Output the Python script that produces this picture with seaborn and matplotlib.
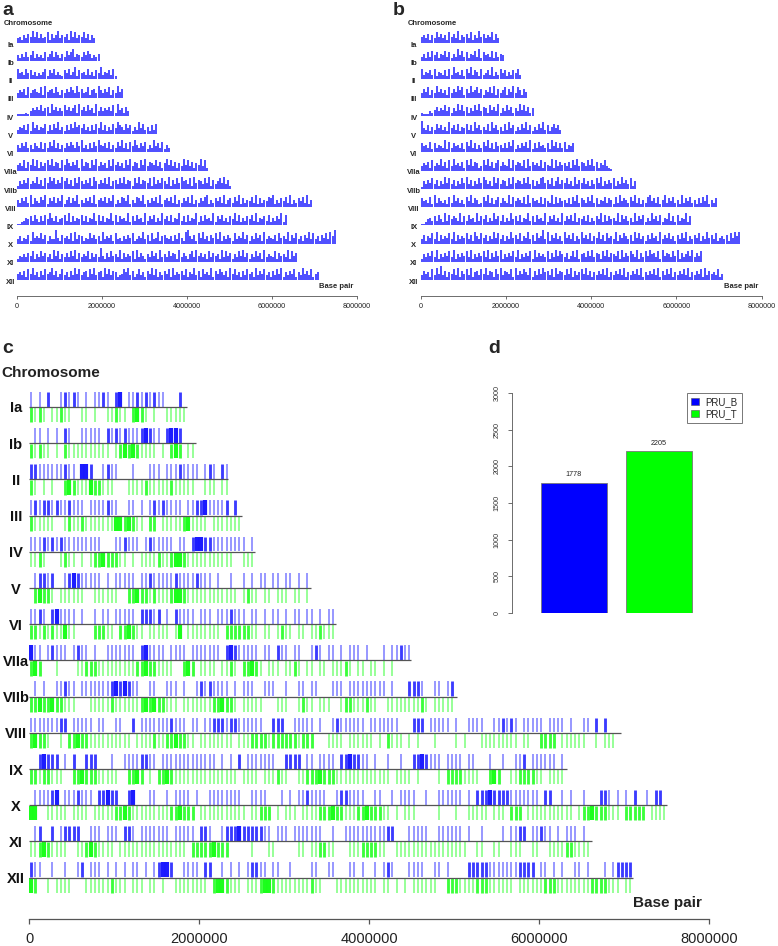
import matplotlib
matplotlib.use("Agg")
import matplotlib.pyplot as plt
from matplotlib.patches import Patch
import numpy as np
import pandas as pd
import seaborn as sns

# ---------------------------------------------------------------- data
chromosomes = ["Ia", "Ib", "II", "III", "IV", "V", "VI", "VIIa", "VIIb",
               "VIII", "IX", "X", "XI", "XII"]
chrom_len = [1860000, 1960000, 2340000, 2510000, 2660000, 3320000, 3610000,
             4500000, 5030000, 6970000, 6330000, 7500000, 6620000, 7110000]
bp_ticks = [0, 2000000, 4000000, 6000000, 8000000]
bp_tick_labels = ["0", "2000000", "4000000", "6000000", "8000000"]

# a / b : SNP density, one digit per 50 kb window
DENS_BIN = 50000
dens_a = [
    "3425364847 3634726358 3546284735 47362532",
    "4253634725 3426357364 2537468354 3647524353",
    "7453746352 4357264735 3264735826 4537352648 3546372",
    "3546273564 3728456374 2536475384 6347256385 3647253846 3",
    "1111213546 4735628463 5374635728 4637452836 3546372845 2635",
    "3546372846 3547263748 3526374856 4735263748 3625374865 3746253847 3526374",
    "5364735264 3726374836 2536475374 8352637485 4637253748 3627485364 7253846372 536",
    "4537264837 2635748365 2748536472 8365274836 4527384635 2748365274 8365473625 8473625384 7362548372",
    "2536473548 3627485736 4857362748 5364728536 4738256374 8365274836 5472836475 3826374856 3728465374 8263574836 2",
    "5364738264 3758264736 4825736482 5364738256 4736482537 6482537648 2536473825 6473825364 7382536478 2536473825 6374826354 7382635476 8253647382 5364738253",
    "1123546374 2637485362 4573826354 7362548373 6254837264 5382637452 8364725384 6372548362 7354826374 5382647352 6483725364 7382546372 5364827",
    "3524362845 4736253394 2645372836 5243746352 8354627342 5364723548 3627348256 4352637428 9536274835 2647382536 4273548362 5374628354 3627453826 4735264837 3526473859",
    "2435364725 3746352847 2536374826 3547263539 4263745382 6354728364 2537462835 3746528364 2573846352 7364528374 6253748362 5374628354 3726453827 46",
    "4536274835 2637458362 4735263847 3562748356 2847365234 7583624735 2648372536 4728354637 2548362745 3826475362 8473526374 5283647352 6374825364 7253846372 453",
]
dens_b = [
    "4536253746 3527463825 4637253846 35472635",
    "3526374625 4736253847 3625473826 4537263542",
    "7354637254 3627384536 2748365273 4638253746 2536473",
    "3647253846 3527364857 2638457362 5473826357 2648375264 3",
    "2111324635 4736253847 3625374836 5274638253 7462538473 6254",
    "9436253746 3528463725 4736284635 3728463527 3846253748 3625374836 2574635",
    "6453726354 3827364536 2748362537 4836274536 3748253647 3826374536 2847363725 463",
    "3546273548 3627384536 2748365237 4836257364 3827465372 8364537264 3827364536 2748365374 8362547321",
    "1536473625 3847362537 4836253748 6352847365 2738465374 8362537846 3725836473 5283647352 6374825364 7253846372 5",
    "6453728364 3527384635 2748365237 4836257364 3827465372 8364537264 3827364536 2748365374 8362547365 2738465374 8362537846 3725836473 5283647352 6374825364",
    "1124536374 2837465382 6374528364 7253846372 5384637254 8362745382 6473528364 7382546372 5364827364 5382746352 8364725384 6372548362 7354826",
    "3625473826 3547382635 4736285374 6253847362 5384637254 8362745938 2647352846 3725384637 2548362745 3826475362 8473526374 5283647352 6374825364 7253846372 4536274858",
    "2536473825 3647382536 4738253647 3826374825 3647382536 4728364537 2638475362 4738256374 8365274836 5472836475 3826374856 3728465374 8263574836 47",
    "3645273849 3625473826 4738256374 8365274836 5472836475 3826374856 3728465374 8263574836 2536473825 3647382536 4738253647 3826374825 3647382536 4728364537 243",
]

# c : SNP sites, number of SNPs per 50 kb window
SNP_BIN = 50000
snp_pru_b = [
    "1010200121 2101011210 2301121212 1100020",
    "0110101021 0011111021 2121112321 102332000",
    "2211111121 1033200121 1000100011 1011121111 0121021",
    "1212212112 1110111121 1001101012 1211110112 2311112020",
    "1112121211 1111111000 1121110121 1111011023 3221111111 101",
    "0122120012 3211111010 1111101121 1111211112 1110100100 1010110110 110101",
    "1121023111 1010010110 1111102221 2010211110 1110111211 1011010110 1011011010 11",
    "3110121110 1211010011 1111102311 1101111011 1111102321 1111011021 1011001210 1101011101 0001011211",
    "0101001121 1011111112 3232110011 0011101001 2121111010 1110011100 1001101100 0111011111 1111010002 2210011012",
    "1111111220 1111101100 1100201111 1112111011 0112221221 1111100222 0011111010 0121111110 1111111000 2220111110 1001111001 1212101111 1011110100 1102020001",
    "0023222010 2002220001 0011112211 0111111111 1111010102 0111111100 2222011011 1102232211 0100100100 2232111011 1101100010 0100112011 1111010",
    "0111123011 1211102232 2002300011 0010111101 0011111111 0011110001 0101121111 0012211110 0110010111 1001001111 1101022232 2221111111 0220010100 1000221010 1020010220",
    "0120020122 2200111011 1022101111 1110111110 2210012223 2222211011 1011111110 0100111111 1111220001 1111001111 1101001000 0101122011 2110101110 10",
    "2110010010 0120111010 1010110101 2332001111 0220010101 0122110110 0100001100 1100011010 0101210001 1110011010 0002222211 1111122220 1101010011 0100010122 220",
]
snp_pru_t = [
    "2121011211 0011010011 2110232101 0011111",
    "2121101021 1111111110 1232321111 010232011",
    "2101010023 2111322111 0001111211 1112111110 0111011",
    "2111110012 1121111111 3323211022 0111112311 1101111111",
    "1121000121 1010122322 2110101111 2112332111 1111111100 111",
    "0232210111 1110011111 1002232212 1112332111 1111111110 1211011011 101101",
    "2212121131 1000022211 0223211011 1110130111 1111102222 2211011012 1101101121 11",
    "2320001000 0112221111 1111122322 1111002320 1111011210 2232101110 1121011011 0111210110 1101010000",
    "2232232211 1000111112 1111112323 2211101111 1112232210 1111100011 1001211011 1001221112 1100111111 1121011111",
    "2322100102 2322111111 1111011112 1122322110 1111111101 1122221222 2221222000 1111011111 1010211101 0100010000 1010001111 1111101100 2222011111 1001011100",
    "2212211100 2232221111 1002232010 2232111111 1111111110 1111011121 1001122232 2211111111 1111101111 0100001022 2211110023 2001122221 1011110",
    "3300111110 1111011111 2232111111 1112232220 1111111111 1011222010 1110111122 2322111223 2221101011 1000001000 1001111101 1102220111 1111111101 2232221110 2222201111",
    "1123211110 0112321111 0111111111 1111111022 2223222000 0010001100 0001101122 1100011122 2211001111 1111111111 1110011001 1001110011 0011112211 11",
    "3200101111 0001111112 1110111011 0100111111 1102332111 0111233211 1111112110 0011111111 1101101010 1111110022 2111122211 1111011111 1222111111 1122221110 110",
]

# d : totals
strains = ["PRU_B", "PRU_T"]
snp_total = [1778, 2205]
strain_colors = ["#0000ff", "#00ff00"]

# ---------------------------------------------------------------- setup
sns.set_style("ticks")
plt.rcParams["font.family"] = ["Liberation Sans", "DejaVu Sans"]

W, H = 778, 946
fig = plt.figure(figsize=(W / 100, H / 100), dpi=100)


def px_axes(x0, y0, x1, y1):
    # axes placed in pixel coordinates (origin top-left)
    ax = fig.add_axes([x0 / W, 1 - y1 / H, (x1 - x0) / W, (y1 - y0) / H])
    ax.patch.set_visible(False)
    return ax


def ftext(x, y, s, **kw):
    fig.text(x / W, 1 - y / H, s, **kw)


def counts(s):
    return np.array([int(c) for c in s.replace(" ", "")])


def bp_axis(ax, fontsize, tick_len, pad, lw):
    sns.despine(ax=ax, left=True)
    ax.spines["bottom"].set_bounds(0, 8e6)
    ax.spines["bottom"].set_color("#555555")
    ax.spines["bottom"].set_linewidth(lw)
    ax.set_yticks([])
    ax.set_xticks(bp_ticks, bp_tick_labels)
    ax.tick_params(axis="x", bottom=True, length=tick_len, width=lw, color="#555555",
                   pad=pad, labelsize=fontsize, labelcolor="#222222")


# ---------------------------------------------------------------- a, b
def density_panel(dens, x0, x1, letter, letter_x, label_cx, chrom_x):
    top, bottom, row0, step = 0, 296, 43, 18.23
    ax = px_axes(x0, top, x1, bottom)
    ax.set_xlim(0, 8e6)
    ax.set_ylim(bottom, top)
    for i, (s, length) in enumerate(zip(dens, chrom_len)):
        h = counts(s)
        pos = np.arange(len(h)) * DENS_BIN + DENS_BIN / 2
        keep = pos < length
        base = row0 + i * step
        ax.vlines(pos[keep], base, base - h[keep] * 1.5, color="#0000ff",
                  lw=1.15, alpha=0.85)
        ftext(label_cx, base + 3.7, chromosomes[i], ha="center", va="baseline",
              fontsize=5.5, fontweight="bold")
    bp_axis(ax, 5.2, 2.2, 3.2, 0.6)
    ftext(letter_x, 15, letter, fontsize=14, fontweight="bold", va="baseline")
    ftext(chrom_x, 25, "Chromosome", fontsize=5.5, fontweight="bold", va="baseline")
    end_px = x0 + chrom_len[-1] / 8e6 * (x1 - x0)
    ftext(end_px, 288.5, "Base pair", fontsize=5.5, fontweight="bold", va="baseline")


density_panel(dens_a, 16.7, 357.0, "a", 2.7, 10.5, 3.3)
density_panel(dens_b, 420.7, 761.7, "b", 392.5, 413.7, 407.3)

# ---------------------------------------------------------------- c
c_x0, c_x1 = 29, 709
axc = px_axes(c_x0, 380, c_x1, 919)
axc.set_xlim(0, 8e6)
axc.set_ylim(919, 380)
row0, step = 407, 36.2


def tick_row(ax, s, length, base, color, direction):
    n = counts(s)
    pos = np.arange(len(n)) * SNP_BIN + SNP_BIN / 2
    keep = (n > 0) & (pos < length)
    n = np.minimum(n[keep], 3)
    rgb = matplotlib.colors.to_rgb(color)
    cols = [(*rgb, 1 - 0.48 ** k) for k in n]
    widths = 0.15 + 0.95 * n
    ax.vlines(pos[keep], base, base + direction * 14.8, colors=cols, linewidths=widths)


for i, length in enumerate(chrom_len):
    base = row0 + i * step
    tick_row(axc, snp_pru_b[i], length, base - 0.4, strain_colors[0], -1)
    tick_row(axc, snp_pru_t[i], length, base + 0.4, strain_colors[1], 1)
    axc.plot([0, length], [base, base], color="#555555", lw=0.9, zorder=3,
             solid_capstyle="butt")
    ftext(16, base + 5.5, chromosomes[i], ha="center", va="baseline",
          fontsize=10.5, fontweight="bold", color="#111111")

bp_axis(axc, 10.5, 3.6, 6.0, 0.9)
ftext(2.7, 353.3, "c", fontsize=14, fontweight="bold", va="baseline")
ftext(1.7, 376.7, "Chromosome", fontsize=11, fontweight="bold", va="baseline",
      color="#222222")
ftext(c_x0 + chrom_len[-1] / 8e6 * (c_x1 - c_x0), 907, "Base pair", fontsize=11,
      fontweight="bold", va="baseline", color="#222222")

# ---------------------------------------------------------------- d
axd = px_axes(512, 393.3, 760, 612.7)
df = pd.DataFrame({"strain": strains, "snps": snp_total})
sns.barplot(data=df, x="strain", y="snps", hue="strain", palette=strain_colors,
            width=0.774, saturation=1, edgecolor="#777777", linewidth=0.6,
            legend=False, ax=axd)
axd.set_xlim(-0.723, 2.184)
axd.set_ylim(0, 3000)
sns.despine(ax=axd, bottom=True)
axd.spines["left"].set_bounds(0, 3000)
axd.spines["left"].set_color("#555555")
axd.spines["left"].set_linewidth(0.6)
axd.set_xticks([])
axd.set_xlabel("")
axd.set_ylabel("")
yt = list(range(0, 3001, 500))
axd.set_yticks(yt)
axd.set_yticklabels([str(v) for v in yt], rotation=90, va="center")
axd.tick_params(axis="y", left=True, length=3, width=0.6, color="#555555",
                labelsize=5.2, labelcolor="#333333", pad=5)
for i, v in enumerate(snp_total):
    axd.text(i, v + 110, str(v), ha="center", va="center", fontsize=5.2,
             color="#222222")

handles = [Patch(facecolor=c, edgecolor="#555555", lw=0.4, label=s)
           for s, c in zip(strains, strain_colors)]
leg = axd.legend(handles=handles, loc="upper left",
                 bbox_to_anchor=(686.7 / W, 1 - 392.7 / H),
                 bbox_transform=fig.transFigure, borderaxespad=0, fontsize=7,
                 frameon=True, fancybox=False, edgecolor="#555555",
                 handlelength=0.8, handleheight=0.8, handletextpad=0.7,
                 borderpad=0.45, labelspacing=0.2)
leg.get_frame().set_linewidth(0.7)
ftext(488, 353.3, "d", fontsize=14, fontweight="bold", va="baseline")

fig.savefig("out.png", dpi=100)
